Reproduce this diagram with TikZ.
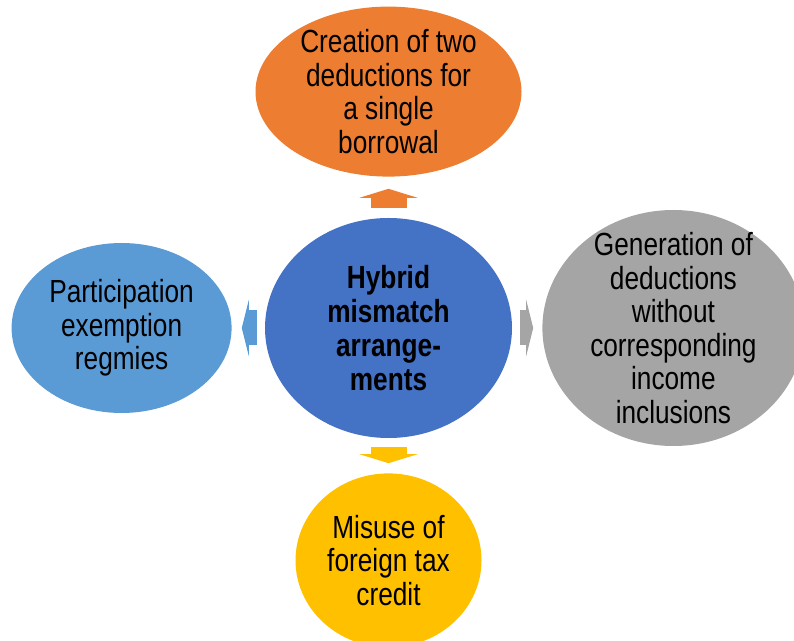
\documentclass[tikz,border=0pt]{standalone}
\usepackage{fontspec}
\setmainfont{Liberation Sans}[FakeStretch=0.82]
\usetikzlibrary{positioning,arrows.meta,shapes.geometric}
\definecolor{hubblue}{RGB}{68,114,196}
\definecolor{creationorange}{RGB}{237,125,49}
\definecolor{generationgray}{RGB}{165,165,165}
\definecolor{misusegold}{RGB}{255,192,0}
\definecolor{participationblue}{RGB}{91,155,213}

\tikzset{
  bubble/.style={ellipse, draw=none, inner sep=0pt},
  bubble text/.style={align=center, text=black, font=\fontsize{32}{33.5}\selectfont},
  vpush/.style={line width=36pt, -{Triangle[width=58pt,length=9pt,line width=0pt]}},
  hpush/.style={line width=35pt, -{Triangle[width=56pt,length=7pt,line width=0pt]}}
}

\begin{document}
\begin{tikzpicture}[x=1pt, y=1pt]
    \useasboundingbox (0,0) rectangle (794,640);

    \node[bubble, fill=hubblue, minimum width=247pt, minimum height=220pt,
      label={[bubble text, font=\fontsize{32}{34}\selectfont\bfseries]center:Hybrid\\mismatch\\arrange-\\ments}]
      (hub) at (388.5,312) {};

    \node[bubble, fill=creationorange, minimum width=266pt, minimum height=170pt, above=41pt of hub,
      label={[bubble text]center:Creation of two\\deductions for\\a single\\borrowal}] (creation) {};
    \node[bubble, fill=misusegold, minimum width=186pt, minimum height=174pt, below=35pt of hub,
      label={[bubble text]center:Misuse of\\foreign tax\\credit}] (misuse) {};
    \node[bubble, fill=participationblue, minimum width=220pt, minimum height=170pt, left=33pt of hub,
      label={[bubble text]center:Participation\\exemption\\regmies}] (participation) {};
    \node[bubble, fill=generationgray, minimum width=262pt, minimum height=236pt, right=30pt of hub,
      label={[bubble text]center:Generation of\\deductions\\without\\corresponding\\income\\inclusions}] (generation) {};

    % block arrows
    \draw[vpush, creationorange, shorten <=10pt, shorten >=12pt] (hub) -- (creation);
    \draw[vpush, misusegold, shorten <=9pt, shorten >=10pt] (hub) -- (misuse);
    \draw[hpush, participationblue, shorten <=8pt, shorten >=10pt] (hub) -- (participation);
    \draw[hpush, generationgray, shorten <=8pt, shorten >=9pt] (hub) -- (generation);
\end{tikzpicture}
\end{document}
